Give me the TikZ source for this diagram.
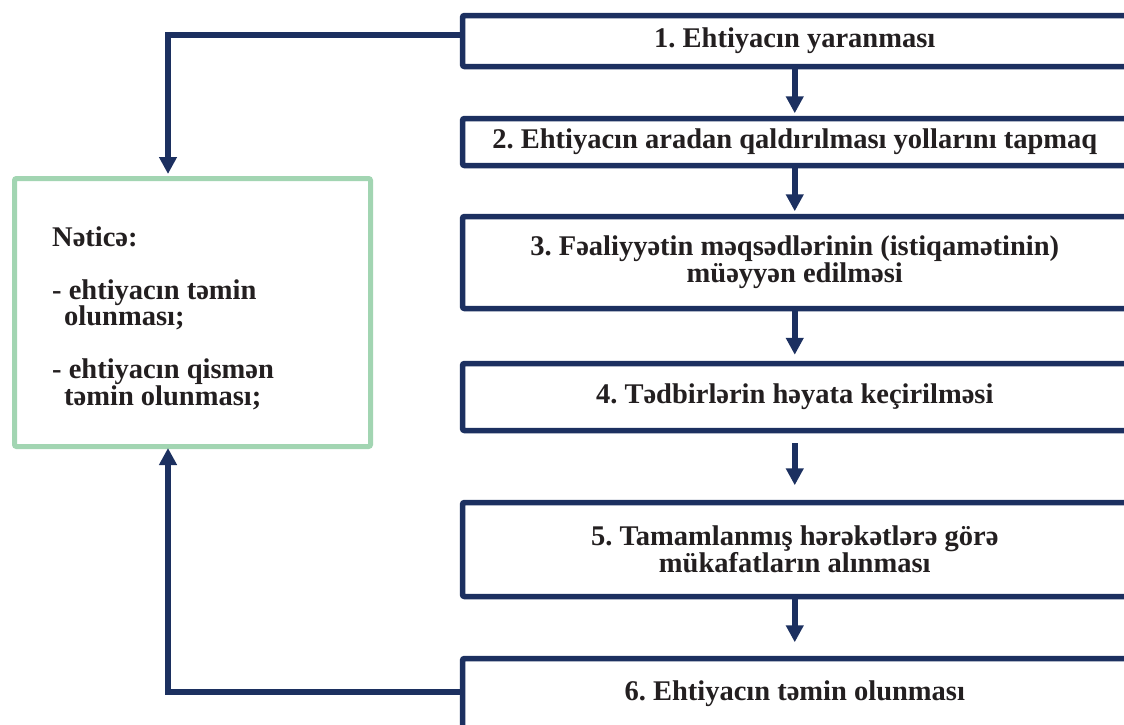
\documentclass[tikz,border=0pt]{standalone}
\usepackage{fontspec}
\setmainfont{Liberation Serif}
\usetikzlibrary{arrows.meta}
\definecolor{navy}{RGB}{28,48,96}
\definecolor{mint}{RGB}{162,213,178}
\definecolor{ink}{RGB}{35,31,32}
\frenchspacing
\tikzset{
  stepbox/.style={draw=navy, line width=5.5pt, rounded corners=2pt, minimum width=664.5pt,
    inner sep=0pt, align=center, text=ink, fill=white,
    font=\bfseries\fontsize{28.5}{27}\selectfont},
  resultbox/.style={draw=mint, line width=5pt, rounded corners=2pt,
    minimum width=356pt, minimum height=268pt, inner sep=0pt, fill=white},
  flow/.style={draw=navy, line width=5.5pt, -{Triangle[length=17pt 0 0, width=17pt 0 0]}},
  lefttext/.style={anchor=base west, inner sep=0pt, text=ink,
    font=\bfseries\fontsize{28.5}{27}\selectfont},
}
\begin{document}
\begin{tikzpicture}[x=1pt,y=-1pt]
\useasboundingbox (0,0) rectangle (1124,724);
\fill[white] (0,0) rectangle (1124,724);

% step boxes
\node[stepbox, minimum height=51pt] (b1) at (794.75,41) {1. Ehtiyacın yaranması};
\node[stepbox, minimum height=47pt] (b2) at (794.75,142) {2. Ehtiyacın aradan qaldırılması yollarını tapmaq};
\node[stepbox, minimum height=92pt] (b3) at (794.75,262.5) {3. Fəaliyyətin məqsədlərinin (istiqamətinin)\\müəyyən edilməsi};
\node[stepbox, minimum height=67pt] (b4) at (794.75,397) {4. Tədbirlərin həyata keçirilməsi};
\node[stepbox, minimum height=94pt] (b5) at (794.75,549.5) {5. Tamamlanmış hərəkətlərə görə\\mükafatların alınması};
\node[stepbox, minimum height=71pt] (b6) at (794.75,694) {6. Ehtiyacın təmin olunması};

% result box
\node[resultbox] (res) at (192.5,312.5) {};
\node[lefttext] (r1) at (52,246) {Nəticə:};
\node[lefttext] (r2) at (52,299) {- ehtiyacın təmin};
\node[lefttext] (r3) at (64,325.5) {olunması;};
\node[lefttext] (r4) at (52,378.5) {- ehtiyacın qismən};
\node[lefttext] (r5) at (64,405) {təmin olunması;};

% vertical flow arrows
\draw[flow, shorten >=2.5pt] (b1.south) -- (b2.north);
\draw[flow, shorten >=2.5pt] (b2.south) -- (b3.north);
\draw[flow, shorten >=6pt] (b3.south) -- (b4.north);
\draw[flow, shorten <=10pt, shorten >=14.5pt] (b4.south) -- (b5.north);
\draw[flow, shorten >=13.5pt] (b5.south) -- (b6.north);

% feedback connectors
\coordinate (c1) at (168,35);
\coordinate (c2) at (168,692);
\draw[flow, shorten >=2pt] (b1.west |- c1) -- (c1) -- (res.north -| c1);
\draw[flow, shorten >=-1pt] (b6.west |- c2) -- (c2) -- (res.south -| c2);
\end{tikzpicture}
\end{document}
